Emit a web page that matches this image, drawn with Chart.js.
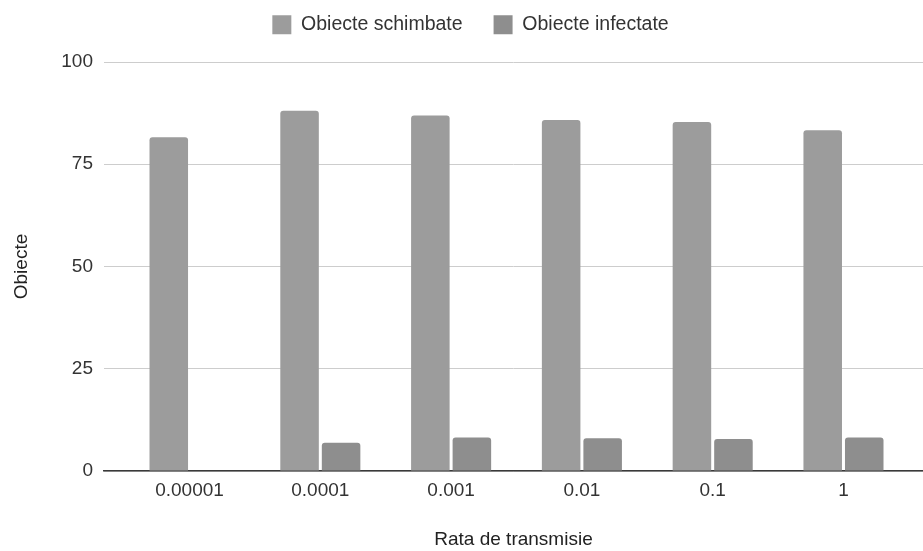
<!DOCTYPE html>
<html>
<head>
<meta charset="utf-8">
<script src="https://cdn.jsdelivr.net/npm/chart.js@4/dist/chart.umd.min.js"></script>
<style>
  html, body { margin: 0; padding: 0; background: #ffffff; }
  #wrap { width: 923px; height: 551px; }
</style>
</head>
<body>
<div id="wrap"><canvas id="c" width="923" height="551"></canvas></div>
<script>
// Transmission rates (x categories)
const rates = ['0.00001', '0.0001', '0.001', '0.01', '0.1', '1'];
// Objects exchanged per rate
const schimbate = [81.6, 88.1, 86.9, 85.8, 85.3, 83.3];
// Objects infected per rate
const infectate = [0, 6.9, 8.2, 8.0, 7.8, 8.2];
// Y axis ticks
const yTicks = [0, 25, 50, 75, 100];

const FONT = "'Liberation Sans', Arial, sans-serif";
const TEXT = '#333333';

// Legend band: fixed height so the plot starts below it, and the
// row of items sits slightly right of the canvas centre, near the top
const legendBand = {
  id: 'legendBand',
  beforeLayout(chart) {
    const lg = chart.legend;
    if (lg && !lg._bandFixed) {
      const fit = lg.fit;
      lg.fit = function () { fit.call(this); this.height = 62; };
      lg._bandFixed = true;
    }
  },
  afterLayout(chart) {
    const lg = chart.legend;
    if (lg) {
      lg.left += 9; lg.right += 9;
      lg.top -= 16; lg.bottom -= 16;
    }
  }
};

const toPoints = arr => arr.map((v, i) => ({ x: i, y: v }));

new Chart(document.getElementById('c'), {
  type: 'bar',
  data: {
    datasets: [
      {
        label: 'Obiecte schimbate',
        data: toPoints(schimbate),
        backgroundColor: '#9c9c9c',
        borderRadius: 3,
        categoryPercentage: 0.635,
        barPercentage: 0.928
      },
      {
        label: 'Obiecte infectate',
        data: toPoints(infectate),
        backgroundColor: '#8e8e8e',
        borderRadius: 3,
        categoryPercentage: 0.635,
        barPercentage: 0.928
      }
    ]
  },
  plugins: [legendBand],
  options: {
    responsive: false,
    devicePixelRatio: 1,
    animation: false,
    layout: { padding: { top: 0, left: 0, right: 0, bottom: 0 } },
    plugins: {
      tooltip: { enabled: false },
      legend: {
        position: 'top',
        labels: {
          boxWidth: 19,
          boxHeight: 19,
          padding: 31,
          color: TEXT,
          font: { family: FONT, size: 19.5 }
        }
      }
    },
    scales: {
      x: {
        type: 'linear',
        min: -0.654,
        max: 5.608,
        offset: false,
        grid: { display: false, drawTicks: false },
        border: { display: true, color: '#3a3a3a', width: 1.5 },
        afterBuildTicks(scale) {
          scale.ticks = rates.map((_, i) => ({ value: i }));
        },
        ticks: {
          autoSkip: false,
          maxRotation: 0,
          padding: 8,
          color: TEXT,
          font: { family: FONT, size: 19 },
          callback: v => rates[v]
        },
        title: {
          display: true,
          text: 'Rata de transmisie',
          color: '#222222',
          font: { family: FONT, size: 19 },
          padding: { top: 0, bottom: 0 }
        },
        afterFit(scale) { scale.height = 80; }
      },
      y: {
        min: 0,
        max: 100,
        afterBuildTicks(scale) {
          scale.ticks = yTicks.map(v => ({ value: v }));
        },
        grid: { color: '#cdcdcd', lineWidth: 1, drawTicks: false },
        border: { display: false },
        ticks: {
          padding: 11,
          color: TEXT,
          font: { family: FONT, size: 19 }
        },
        title: {
          display: true,
          text: 'Obiecte',
          color: '#222222',
          font: { family: FONT, size: 19 },
          padding: { top: 10, bottom: 0 }
        },
        afterFit(scale) { scale.width = 104; }
      }
    }
  }
});
</script>
</body>
</html>
